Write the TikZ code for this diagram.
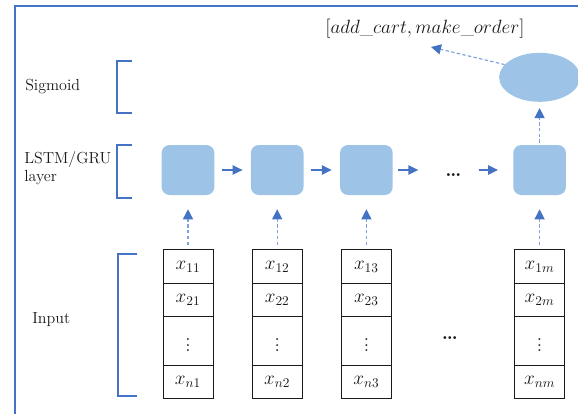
\documentclass[tikz,border=0pt]{standalone}
\usepackage{tikz}
\usetikzlibrary{arrows.meta,positioning,shapes.geometric}
\usepackage{xcolor}
\definecolor{unit}{HTML}{9DC3E6}
\definecolor{flow}{HTML}{4472C4}
\definecolor{feedline}{HTML}{7FA1DB}
\definecolor{ink}{HTML}{1A1A1A}
\tikzset{
  >=Latex,
  every node/.style={text=ink},
  rnnbox/.style={fill=unit,rounded corners=6pt,minimum width=39.5pt,minimum height=37.5pt,inner sep=0pt},
  outnode/.style={ellipse,fill=unit,minimum width=60.75pt,minimum height=36.75pt,inner sep=0pt},
  cell/.style={draw=ink,line width=0.75pt,fill=white,minimum width=37.5pt,minimum height=25pt,inner sep=0pt,outer sep=0pt,font=\fontsize{14.5}{16}\selectfont},
  gapcell/.style={cell,minimum height=36.75pt},
  layer/.style={font=\fontsize{12}{13.5}\selectfont,align=left,anchor=west,inner sep=0pt},
  gapdots/.style={inner sep=0pt,font=\fontsize{15}{16}\selectfont},
  brace/.style={draw=flow,line width=0.8pt},
  frame/.style={draw=flow,line width=1.2pt},
  flowarr/.style={-{Triangle[length=7.5pt,width=7pt]},line width=1.1pt,draw=flow},
  feed/.style={-{Triangle[length=7.5pt,width=7.5pt,color=flow]},line width=0.9pt,draw=feedline,dash pattern=on 2.5pt off 1.8pt},
}

\begin{document}
\begin{tikzpicture}[x=0.75pt,y=-0.75pt]
\useasboundingbox (0,0) rectangle (578,414);

% outer frame, only top and left edges show
\draw[frame] (15,414) -- (15,6) -- (578,6);

% layer names and their brackets
\node[layer] (sig) at (25,87) {Sigmoid};
\node[layer] (rnn) at (24,168) {LSTM/GRU\\layer};
\node[layer] (inp) at (32,320) {Input};

\draw[brace] (132,61) -| (117,113) -- (132,113);
\draw[brace] (132,145) -| (117,198) -- (132,198);
\draw[brace] (137,254) -| (118,396) -- (137,396);

% recurrent units
\node[rnnbox] (b1) at (188,170) {};
\node[rnnbox,right=27pt of b1] (b2) {};
\node[rnnbox,right=27pt of b2] (b3) {};
\node[rnnbox,right=90pt of b3] (b4) {};
\node[gapdots,right=39pt of b3,yshift=-4pt] (hdots) {\textbf{\dots}};

\draw[flowarr,shorten <=5.25pt,shorten >=6pt] (b1) -- (b2);
\draw[flowarr,shorten <=5.25pt,shorten >=6pt] (b2) -- (b3);
\draw[flowarr,shorten <=3.75pt,shorten >=20pt] (b3.east) -- (b3.east -| hdots.west);
\draw[flowarr,shorten <=12.75pt,shorten >=11.25pt] (hdots.east |- b4) -- (b4.west);

% sigmoid output
\node[outnode,above=32pt of b4] (outcell) {};
\node[font=\fontsize{13.5}{15}\selectfont] (out) at (425,29) {$[add\_cart, make\_order]$};
\coordinate (outtip) at (431,47);

\draw[feed,shorten <=1.5pt,shorten >=4.5pt] (b4) -- (outcell);
\draw[feed] (outcell.160) -- (outtip);

% input columns
\node[cell,below=41pt of b1] (x11) {$x_{11}$};
\node[cell,below=0pt of x11] (x21) {$x_{21}$};
\node[gapcell,below=0pt of x21] (xv1) {$\vdots$};
\node[cell,below=0pt of xv1] (xn1) {$x_{n1}$};

\node[cell,below=41pt of b2] (x12) {$x_{12}$};
\node[cell,below=0pt of x12] (x22) {$x_{22}$};
\node[gapcell,below=0pt of x22] (xv2) {$\vdots$};
\node[cell,below=0pt of xv2] (xn2) {$x_{n2}$};

\node[cell,below=41pt of b3] (x13) {$x_{13}$};
\node[cell,below=0pt of x13] (x23) {$x_{23}$};
\node[gapcell,below=0pt of x23] (xv3) {$\vdots$};
\node[cell,below=0pt of xv3] (xn3) {$x_{n3}$};

\node[cell,below=41pt of b4] (x1m) {$x_{1m}$};
\node[cell,below=0pt of x1m] (x2m) {$x_{2m}$};
\node[gapcell,below=0pt of x2m] (xvm) {$\vdots$};
\node[cell,below=0pt of xvm] (xnm) {$x_{nm}$};

\node[gapdots] (cdots) at (450,338) {\textbf{\dots}};

\draw[feed,shorten <=3.75pt,shorten >=10.5pt] (x11) -- (b1);
\draw[feed,shorten <=3.75pt,shorten >=10.5pt] (x12) -- (b2);
\draw[feed,shorten <=3.75pt,shorten >=10.5pt] (x13) -- (b3);
\draw[feed,shorten <=3.75pt,shorten >=10.5pt] (x1m) -- (b4);

\end{tikzpicture}
\end{document}
